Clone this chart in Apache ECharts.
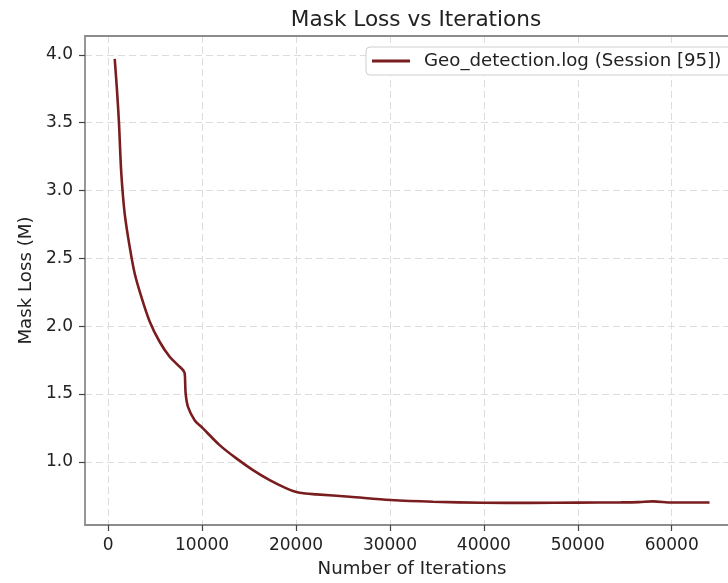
<!DOCTYPE html>
<html>
<head>
<meta charset="utf-8">
<script src="https://cdn.jsdelivr.net/npm/echarts@6/dist/echarts.min.js"></script>
<style>
html,body{margin:0;padding:0;background:#fff;}
#c{width:728px;height:583px;}
</style>
</head>
<body>
<div id="c"></div>
<script>
const titleText = "Mask Loss vs Iterations";
const xAxisName = "Number of Iterations";
const yAxisName = "Mask Loss (M)";
const seriesName = "Geo_detection.log (Session [95])";

const iterations = [700, 940, 1150, 1400, 1760, 2290, 2820, 3530, 4420, 5480, 6550, 7400, 7970, 8150, 8250, 8500, 9210, 10100, 11870, 13650, 15420, 17200, 18980, 19940, 21000, 22170, 25720, 30050, 34590, 39910, 45000, 49930, 54610, 56500, 57990, 60040, 64030];
const maskLoss   = [3.97, 3.74, 3.50, 3.127, 2.83, 2.586, 2.39, 2.217, 2.035, 1.885, 1.774, 1.715, 1.676, 1.652, 1.504, 1.405, 1.307, 1.246, 1.123, 1.025, 0.939, 0.865, 0.804, 0.779, 0.766, 0.760, 0.742, 0.718, 0.705, 0.698, 0.697, 0.699, 0.701, 0.703, 0.708, 0.700, 0.700];

const font = "DejaVu Sans";
const spine = {show: true, onZero: false, lineStyle: {color: '#8c8c8c', width: 1.8}};
const chart = echarts.init(document.getElementById('c'), null, {renderer: 'canvas'});
chart.setOption({
  animation: false,
  backgroundColor: '#ffffff',
  title: {
    text: titleText,
    left: 411,
    textAlign: 'center',
    top: 4,
    textStyle: {fontFamily: font, fontSize: 21.6, fontWeight: 'normal', color: '#222'}
  },
  legend: {
    data: [seriesName],
    left: 366,
    top: 47,
    padding: [5, 10, 5, 6],
    backgroundColor: '#fff',
    borderColor: '#cfcfcf',
    borderWidth: 1,
    borderRadius: 4,
    icon: 'rect',
    itemWidth: 38,
    itemHeight: 3,
    textStyle: {fontFamily: font, fontSize: 18.2, color: '#222', lineHeight: 18, padding: [0, 0, 0, 9]}
  },
  grid: {
    left: 85, top: 36, width: 654, height: 489,
    outerBoundsMode: 'none',
    containLabel: false,
    show: false
  },
  xAxis: [{
    type: 'value',
    min: -2465, max: 67165,
    splitNumber: 7,
    name: xAxisName,
    nameLocation: 'middle',
    nameGap: 35,
    nameTextStyle: {fontFamily: font, fontSize: 18.2, color: '#222'},
    axisLine: spine,
    axisTick: {show: true, length: 6, lineStyle: {color: '#444', width: 1.2}},
    axisLabel: {
      fontFamily: font, fontSize: 17, color: '#222', margin: 12,
      showMinLabel: false, showMaxLabel: false,
      formatter: function (v) { return (Math.abs(v % 10000) < 1e-6) ? String(v) : ''; }
    },
    splitLine: {show: true, lineStyle: {color: '#dcdcdc', width: 1, type: [7, 4]}}
  }, {
    type: 'value', position: 'top',
    min: -2465, max: 67165,
    axisLine: spine, axisTick: {show: false}, axisLabel: {show: false}, splitLine: {show: false}
  }],
  yAxis: [{
    type: 'value',
    min: 0.534, max: 4.139,
    splitNumber: 7,
    name: yAxisName,
    nameLocation: 'middle',
    nameGap: 50,
    nameTextStyle: {fontFamily: font, fontSize: 18.2, color: '#222'},
    axisLine: spine,
    axisTick: {show: true, length: 6, lineStyle: {color: '#444', width: 1.2}},
    axisLabel: {
      fontFamily: font, fontSize: 17, color: '#222', margin: 12,
      showMinLabel: false, showMaxLabel: false,
      formatter: function (v) { const r = Math.round(v * 2) / 2; return Math.abs(v - r) < 1e-6 ? r.toFixed(1) : ''; }
    },
    splitLine: {show: true, lineStyle: {color: '#dcdcdc', width: 1, type: [7, 4]}}
  }, {
    type: 'value', position: 'right',
    min: 0.534, max: 4.139,
    axisLine: spine, axisTick: {show: false}, axisLabel: {show: false}, splitLine: {show: false}
  }],
  series: [{
    name: seriesName,
    type: 'line',
    data: iterations.map((x, i) => [x, maskLoss[i]]),
    showSymbol: false,
    smooth: 0.3,
    lineStyle: {color: '#7a1d1f', width: 2.6},
    itemStyle: {color: '#7a1d1f'}
  }]
});
</script>
</body>
</html>
